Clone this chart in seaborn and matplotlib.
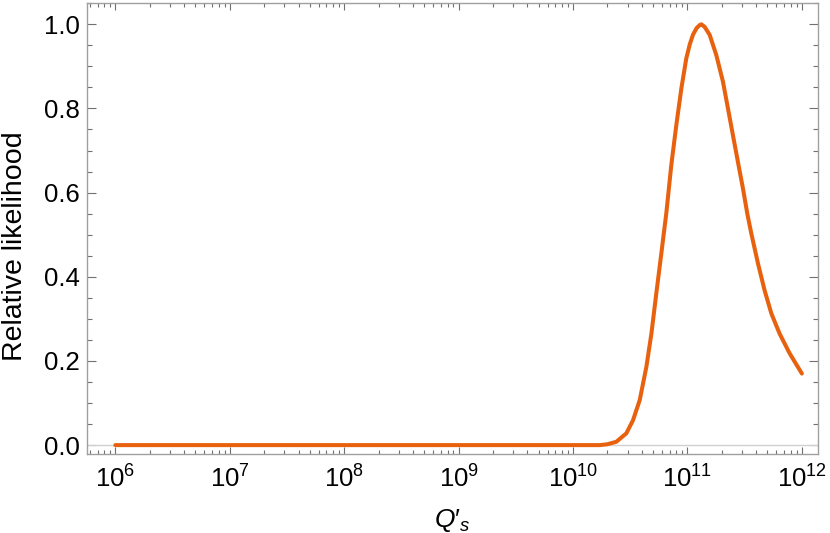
import numpy as np
import pandas as pd
import matplotlib
matplotlib.use('Agg')
import matplotlib.pyplot as plt
import matplotlib.ticker as mticker
import seaborn as sns

# curve: log10(Q's) and relative likelihood
log_q = [6.0, 7.0, 8.0, 9.0, 10.0, 10.233, 10.30, 10.379, 10.466, 10.524, 10.583,
         10.641, 10.685, 10.728, 10.772, 10.816, 10.859, 10.903, 10.947, 10.990,
         11.020, 11.048, 11.080, 11.107, 11.121, 11.150, 11.194, 11.252, 11.310,
         11.354, 11.397, 11.441, 11.485, 11.523, 11.558, 11.616, 11.674, 11.733,
         11.805, 11.893, 12.0]
likelihood = [0.0, 0.0, 0.0, 0.0, 0.0, 0.0, 0.002, 0.008, 0.028, 0.059, 0.107,
              0.186, 0.265, 0.361, 0.456, 0.553, 0.666, 0.761, 0.848, 0.919,
              0.952, 0.975, 0.991, 0.998, 1.0, 0.994, 0.975, 0.927, 0.864,
              0.800, 0.737, 0.673, 0.610, 0.550, 0.503, 0.432, 0.368, 0.313,
              0.265, 0.218, 0.170]
x_decades = [6, 7, 8, 9, 10, 11, 12]

df = pd.DataFrame({'Q': [10 ** v for v in log_q], 'L': likelihood})

sns.set_style('ticks')
plt.rcParams['font.family'] = ['Liberation Sans', 'DejaVu Sans']
plt.rcParams['mathtext.fontset'] = 'custom'
plt.rcParams['mathtext.rm'] = 'Liberation Sans'
plt.rcParams['mathtext.it'] = 'Liberation Sans:italic'
plt.rcParams['text.color'] = 'black'
plt.rcParams['axes.labelcolor'] = 'black'
plt.rcParams['xtick.labelcolor'] = 'black'
plt.rcParams['ytick.labelcolor'] = 'black'

fig = plt.figure(figsize=(8.3, 5.33), dpi=100)
ax = fig.add_axes([0.1045, 0.148, 0.8805, 0.8464])

ax.axhline(0, color='#d0d0d0', lw=1.0, zorder=1)
sns.lineplot(data=df, x='Q', y='L', color='#e8610e', lw=2.9, ax=ax, zorder=3)

ax.set_xscale('log')
ax.set_xlim(10 ** 5.75, 10 ** 12.137)
ax.set_ylim(-0.0214, 1.0506)
ax.set_xticks([10.0 ** d for d in x_decades])
ax.set_xticklabels([rf'$10^{{{d}}}$' for d in x_decades])
ax.xaxis.set_minor_locator(mticker.LogLocator(base=10, subs=np.arange(2, 10), numticks=20))
ax.xaxis.set_minor_formatter(mticker.NullFormatter())
ax.yaxis.set_major_locator(mticker.MultipleLocator(0.2))
ax.yaxis.set_minor_locator(mticker.MultipleLocator(0.05))
ax.yaxis.set_major_formatter(mticker.FormatStrFormatter('%.1f'))

for s in ax.spines.values():
    s.set_color('#a0a0a0')
    s.set_linewidth(1.0)

ax.tick_params(which='both', direction='in', top=True, right=True, color='#707070',
               labelsize=18.5, width=0.8)
ax.tick_params(axis='x', which='major', length=5, pad=8)
ax.tick_params(axis='x', which='minor', length=3)
ax.tick_params(axis='y', which='major', length=6.5, pad=5)
ax.tick_params(axis='y', which='minor', length=3.5)

ax.set_xlabel(r"$Q{\prime}_s$", fontsize=19)
ax.set_ylabel('Relative likelihood', fontsize=20.5)
ax.xaxis.set_label_coords(0.5, -0.118)
ax.yaxis.set_label_coords(-0.081, 0.461)

fig.savefig('out.png', dpi=100)
